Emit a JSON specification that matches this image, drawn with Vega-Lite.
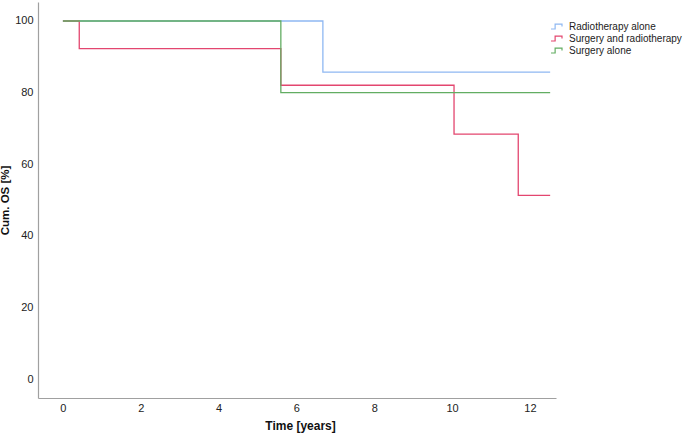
{
  "$schema": "https://vega.github.io/schema/vega-lite/v6.json",
  "width": 518,
  "height": 396,
  "autosize": "none",
  "padding": {"left": 38, "top": 2, "right": 129, "bottom": 35},
  "background": "white",
  "config": {
    "view": {"stroke": null},
    "font": "Liberation Sans"
  },
  "data": {
    "values": [
      {"group": "Radiotherapy alone", "t": 0, "s": 100},
      {"group": "Radiotherapy alone", "t": 6.68, "s": 85.7},
      {"group": "Radiotherapy alone", "t": 12.52, "s": 85.7},
      {"group": "Surgery and radiotherapy", "t": 0, "s": 100},
      {"group": "Surgery and radiotherapy", "t": 0.42, "s": 92.3},
      {"group": "Surgery and radiotherapy", "t": 5.6, "s": 82.05},
      {"group": "Surgery and radiotherapy", "t": 10.05, "s": 68.4},
      {"group": "Surgery and radiotherapy", "t": 11.7, "s": 51.3},
      {"group": "Surgery and radiotherapy", "t": 12.52, "s": 51.3},
      {"group": "Surgery alone", "t": 0, "s": 100},
      {"group": "Surgery alone", "t": 5.6, "s": 80},
      {"group": "Surgery alone", "t": 12.52, "s": 80}
    ]
  },
  "mark": {"type": "line", "interpolate": "step-after", "strokeWidth": 1.3},
  "encoding": {
    "x": {
      "field": "t", "type": "quantitative",
      "scale": {"domain": [-0.64, 12.67], "nice": false, "zero": false},
      "axis": {
        "values": [0, 2, 4, 6, 8, 10, 12], "grid": false, "ticks": false,
        "domainColor": "#a0a0a0", "domainWidth": 1.2,
        "labelFontSize": 11, "labelColor": "#222", "labelPadding": 4,
        "title": "Time [years]", "titleFontSize": 12, "titleFontWeight": "bold",
        "titleColor": "#111", "titleBaseline": "middle", "titleY": 27.5, "titleX": 262, "titleAnchor": "middle"
      }
    },
    "y": {
      "field": "s", "type": "quantitative",
      "scale": {"domain": [-5.3, 105.3], "nice": false, "zero": false},
      "axis": {
        "values": [0, 20, 40, 60, 80, 100], "grid": false, "ticks": false,
        "domainColor": "#a0a0a0", "domainWidth": 1.2,
        "labelFontSize": 11, "labelColor": "#222", "labelPadding": 5,
        "title": "Cum. OS [%]", "titleFontSize": 11.5, "titleFontWeight": "bold",
        "titleColor": "#111", "titleAngle": -90, "titleBaseline": "middle",
        "titleAlign": "center", "titleX": -33, "titleY": 198, "titleAnchor": "middle"
      }
    },
    "color": {
      "field": "group", "type": "nominal",
      "sort": ["Radiotherapy alone", "Surgery and radiotherapy", "Surgery alone"],
      "scale": {
        "domain": ["Radiotherapy alone", "Surgery and radiotherapy", "Surgery alone"],
        "range": ["#8fb8f2", "#e3466f", "#62ad62"]
      },
      "legend": {
        "title": null, "orient": "none", "legendX": 512, "legendY": 18,
        "labelFontSize": 10, "labelColor": "#222", "rowPadding": -1.5,
        "symbolType": "M-1,0.45L-0.25,0.45L-0.25,-0.45L1,-0.45L1,0",
        "symbolSize": 121, "symbolStrokeWidth": 1.2, "labelOffset": 6
      }
    }
  }
}
